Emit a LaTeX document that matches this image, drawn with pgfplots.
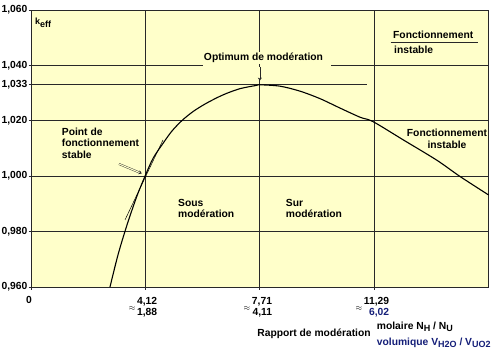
\documentclass[border=0pt]{standalone}
\usepackage{pgfplots}
\pgfplotsset{compat=1.18}
\usepackage{fontspec}
\setmainfont{Liberation Sans}
\usetikzlibrary{arrows.meta}
\definecolor{bg}{RGB}{255,255,202}
\definecolor{ln}{RGB}{40,40,40}
\definecolor{navy}{RGB}{20,30,120}
\newcommand\sub[1]{\raisebox{-2.6pt}{\fontsize{9}{9}\selectfont #1}}
\newcommand\xl[2]{\makebox{{\fontsize{8}{8}\selectfont$\approx$}\,\begin{tabular}[c]{@{}r@{}}#1\\#2\end{tabular}}}
\pgfplotstableread{
x y
3.025 0.9600
3.275 0.9716
3.557 0.9824
3.860 0.9926
4.120 1.0000
4.379 1.0066
4.692 1.0120
4.955 1.0162
5.267 1.0200
5.630 1.0234
6.049 1.0264
6.568 1.0294
7.090 1.0316
7.613 1.0328
7.710 1.0330
8.341 1.0325
8.966 1.0307
9.592 1.0280
10.217 1.0246
10.843 1.0213
11.250 1.0197
12.197 1.0131
13.241 1.0058
13.970 0.9999
14.867 0.9932
}\keff
\begin{document}
\begin{tikzpicture}[font=\bfseries\fontsize{10.3}{11.5}\selectfont]
\useasboundingbox (0,0) rectangle (500pt,356pt);
\begin{axis}[
  at={(31pt,69pt)}, anchor=south west,
  scale only axis, width=457.7pt, height=277pt,
  xmin=0.555, xmax=14.867, ymin=0.960, ymax=1.060,
  axis background/.style={fill=bg},
  axis line style={ln, line width=0.7pt},
  tick style={ln, line width=0.7pt},
  tick align=outside, major tick length=2.5pt,
  xtick pos=bottom, ytick pos=left,
  ytick={0.960,0.980,1.000,1.020,1.033,1.040,1.060},
  yticklabels={{0,960},{0,980},{1,000},{1,020},{1,033},{1,040},{1,060}},
  yticklabel style={inner sep=1pt},
  xtick={0.555,4.12,7.71,11.29},
  xticklabels={0,\xl{4,12}{1,88},\xl{7,71}{4,11},\xl{11,29}{\color{navy}6,02}},
  xticklabel style={yshift=-3pt, xshift=-2pt},
  xmajorgrids, grid style={ln, line width=0.7pt},
  clip=false,
]
\draw[ln, line width=0.7pt] (axis cs:0.555,1.020) -- (axis cs:14.867,1.020);
\draw[ln, line width=0.7pt] (axis cs:0.555,1.000) -- (axis cs:14.867,1.000);
\draw[ln, line width=0.7pt] (axis cs:0.555,0.980) -- (axis cs:14.867,0.980);
\draw[ln, line width=0.7pt] (axis cs:0.555,1.040) -- (axis cs:5.933,1.040);
\draw[ln, line width=0.7pt] (axis cs:9.936,1.040) -- (axis cs:14.867,1.040);
\draw[ln, line width=0.7pt] (axis cs:0.555,1.033) -- (axis cs:11.052,1.033);
\draw[ln, line width=0.7pt] (axis cs:11.802,1.04845) -- (axis cs:14.523,1.04845);
\addplot[black, line width=1.1pt, smooth, tension=0.5, no marks] table {\keff};
\draw[black, line width=0.5pt] (axis cs:3.494,0.9842) -- (axis cs:4.683,1.0131);
\draw[ln, line width=0.4pt, double=bg, double distance=1.1pt, -{Stealth[length=3pt,width=4pt]}] (axis cs:3.307,1.0044) -- (axis cs:4.017,1.0010);
\draw[ln, line width=0.4pt, double=bg, double distance=1.1pt, -{Stealth[length=3pt,width=4pt]}] (axis cs:7.71,1.0395) -- (axis cs:7.71,1.0345);
\end{axis}
\node[anchor=west, inner sep=0] at (35pt,333pt) {{\fontsize{9}{9}\selectfont k}\sub{eff}};
\node[fill=bg, inner sep=1pt] at (263.5pt,298pt) {Optimum de modération};
\node[anchor=west, inner sep=0] at (393pt,321pt) {Fonctionnement};
\node[anchor=west, inner sep=0] at (394pt,306pt) {instable};
\node[anchor=west, inner sep=0, align=left] at (61.7pt,212.7pt) {Point de\\fonctionnement\\stable};
\node[anchor=west, inner sep=0, align=left] at (178pt,147.6pt) {Sous\\modération};
\node[anchor=west, inner sep=0, align=left] at (285.7pt,147.6pt) {Sur\\modération};
\node[inner sep=0, align=center] at (447pt,217pt) {Fonctionnement\\instable};
\node[inner sep=0] at (314pt,22pt) {Rapport de modération};
\node[anchor=west, inner sep=0] at (376.7pt,29.3pt) {molaire N\sub{H} / N\sub{U}};
\node[anchor=west, inner sep=0, text=navy] at (376.7pt,13.3pt) {volumique V\sub{H2O} / V\sub{UO2}};
\end{tikzpicture}
\end{document}
